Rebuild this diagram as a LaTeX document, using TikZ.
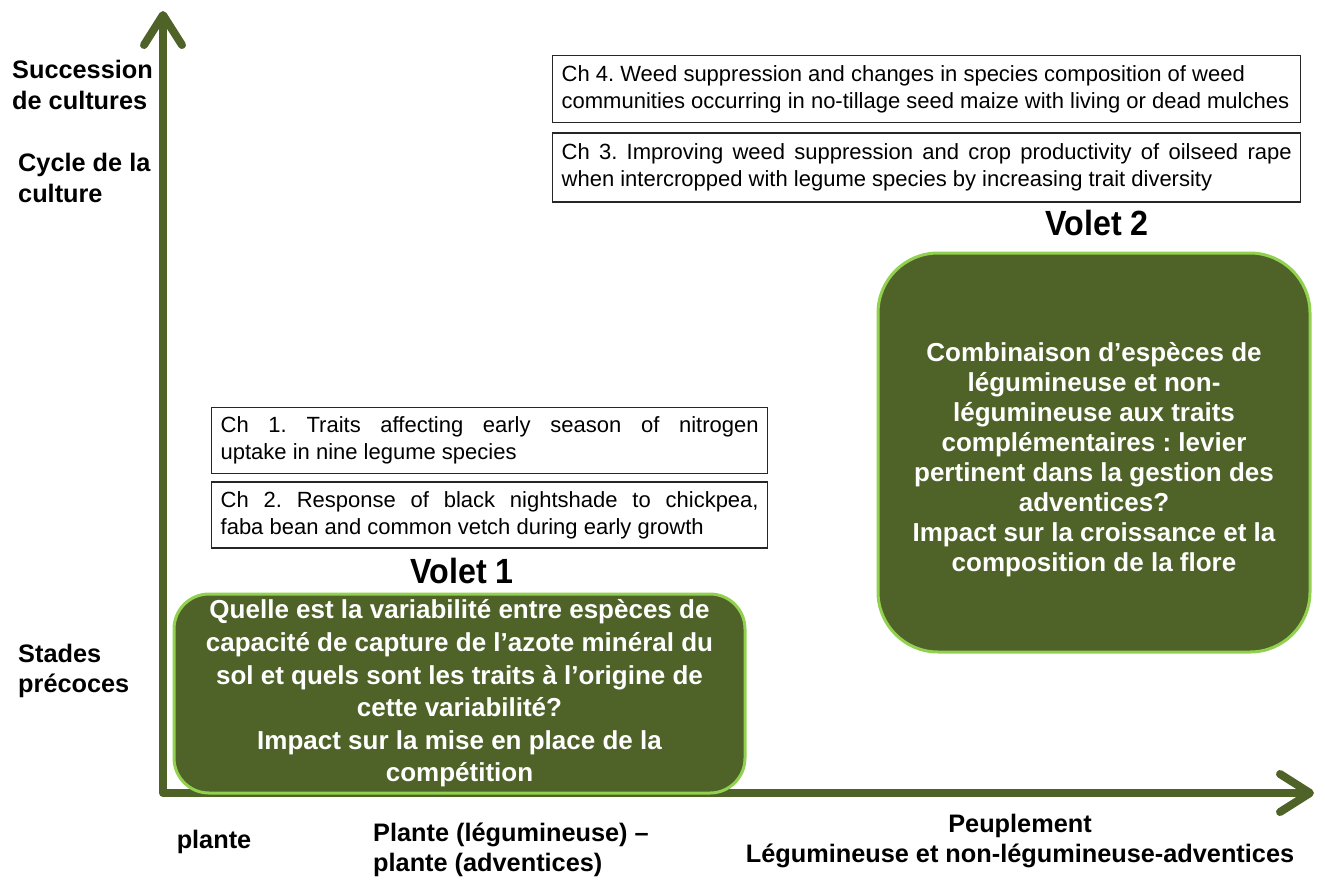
\documentclass[tikz,border=0pt]{standalone}
\usepackage{fontspec}
\setmainfont{Liberation Sans}
\newfontfamily\voletsf[FakeStretch=0.92]{Liberation Sans}
\usetikzlibrary{positioning,arrows.meta}
\definecolor{oliveaxis}{HTML}{4F6228}
\definecolor{limeborder}{HTML}{92D050}
\frenchspacing

\begin{document}
\begin{tikzpicture}[x=1pt,y=-1pt,
  chbox/.style = {draw=black!85, line width=1.3pt, inner xsep=9pt, inner ysep=4pt,
    align=justify, font=\fontsize{22}{27}\selectfont},
  question/.style = {draw=limeborder, line width=3pt, fill=oliveaxis, text=white,
    align=center, font=\bfseries\fontsize{26}{32.6}\selectfont},
  axislabel/.style = {align=left, inner sep=0pt, font=\bfseries\fontsize{25.3}{30.5}\selectfont},
  voletlabel/.style = {inner sep=0pt, font=\voletsf\bfseries\fontsize{35}{38}\selectfont}]
\useasboundingbox (0,0) rectangle (1325,881);

% axes
\coordinate (ytop) at (163,11);
\coordinate (origin) at (163,793);
\coordinate (xend) at (1314,793);
\draw[oliveaxis, line width=8pt, line join=round,
  {Straight Barb[length=30pt,width=38pt,round]}-{Straight Barb[length=30pt,width=38pt,round]}]
  (ytop) -- (origin) -- (xend);

% volet 2
\node[chbox, anchor=north west, text width=730pt, minimum height=67pt] (ch4) at (552,55)
  {Ch 4. Weed suppression and changes in species composition of weed\\
   communities occurring in no-tillage seed maize with living or dead mulches};
\node[chbox, below=9pt of ch4, text width=730pt, minimum height=69pt] (ch3)
  {Ch 3. Improving weed suppression and crop productivity of oilseed rape\linebreak
   when intercropped with legume species by increasing trait diversity};
\node[voletlabel] (volet2) at (1097,223) {Volet 2};
\node[question, rounded corners=60pt, minimum width=432pt, minimum height=399pt,
  font=\bfseries\fontsize{26}{30}\selectfont] (q2) at (1094,452.5)
  {\rule{0pt}{33pt}Combinaison d’espèces de\\légumineuse et non-\\légumineuse aux traits\\complémentaires : levier\\
   pertinent dans la gestion des\\adventices?\\Impact sur la croissance et la\\composition de la flore};

% volet 1
\node[chbox, anchor=north west, text width=538pt, minimum height=66pt] (ch1) at (211,407)
  {Ch 1. Traits affecting early season of nitrogen\linebreak uptake in nine legume species};
\node[chbox, below=7pt of ch1, text width=538pt, minimum height=66pt] (ch2)
  {Ch 2. Response of black nightshade to chickpea,\linebreak faba bean and common vetch during early growth};
\node[voletlabel] (volet1) at (462,571) {Volet 1};
\node[question, rounded corners=35pt, minimum width=571pt, minimum height=199pt] (q1) at (459.5,693.5)
  {Quelle est la variabilité entre espèces de\\capacité de capture de l’azote minéral du\\
   sol et quels sont les traits à l’origine de\\cette variabilité?\\Impact sur la mise en place de la\\compétition};

% axis labels
\node[axislabel, anchor=west] (succ) at (12,85) {Succession\\de cultures};
\node[axislabel, anchor=west] (cycle) at (18,178) {Cycle de la\\culture};
\node[axislabel, anchor=west] (stades) at (18,671) {Stades\\précoces};
\node[axislabel] (plante) at (214,842) {plante};
\node[axislabel, anchor=west] (plplante) at (373,850) {Plante (légumineuse) –\\plante (adventices)};
\node[axislabel, align=center] (peupl) at (1020,841) {Peuplement\\Légumineuse et non-légumineuse-adventices};
\end{tikzpicture}
\end{document}
